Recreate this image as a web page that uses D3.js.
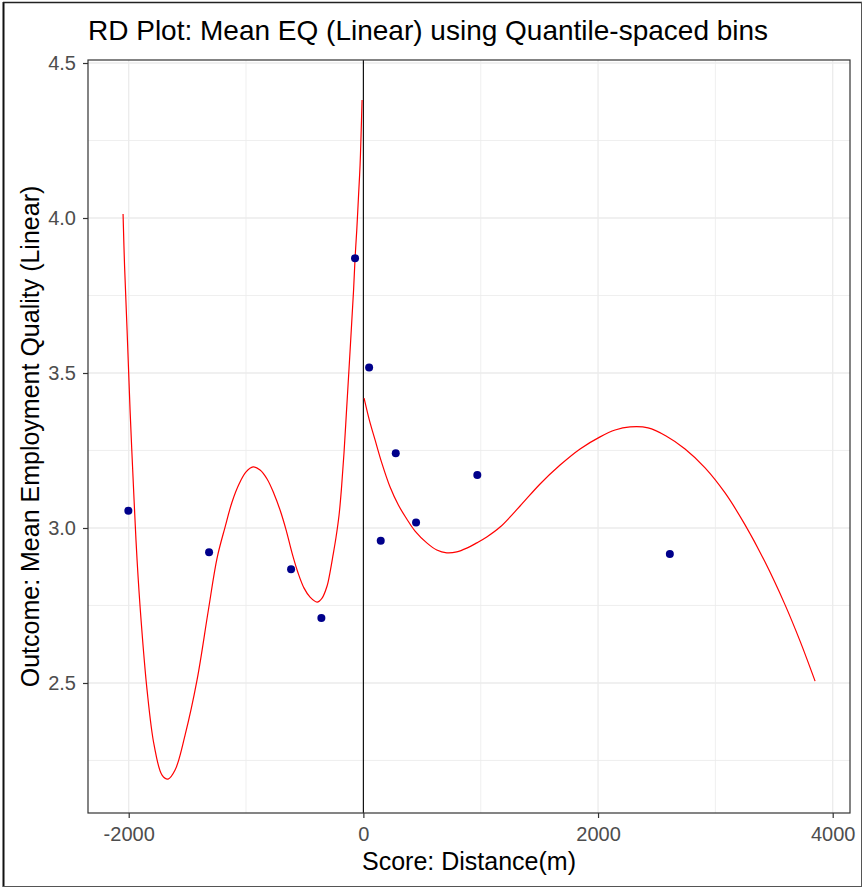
<!DOCTYPE html>
<html>
<head>
<meta charset="utf-8">
<script src="https://cdn.jsdelivr.net/npm/d3@7"></script>
<style>
  html, body { margin: 0; padding: 0; background: #fff; }
  svg { display: block; font-family: "Liberation Sans", Arial, sans-serif; }
</style>
</head>
<body>
<svg id="chart" width="863" height="888"></svg>
<script>
// Binned sample means (quantile-spaced bins)
const binX = [-2003, -1315, -616, -358, -71, 49, 148, 276, 449, 971, 2612];
const binY = [3.056, 2.922, 2.867, 2.710, 3.870, 3.518, 2.959, 3.241, 3.018, 3.171, 2.916];

// Global polynomial fit, left of the cutoff
const leftFitX = [-2048.1, -2035.3, -2013.9, -1988.4, -1954.3, -1928.7, -1894.6, -1843.5, -1783.8, -1715.7,
  -1664.5, -1604.8, -1519.6, -1417.4, -1323.6, -1246.9, -1178.7, -1119.1, -1059.4, -999.7,
  -940.1, -880.4, -820.8, -761.1, -710.0, -658.8, -607.7, -556.5, -505.4, -454.3,
  -394.6, -352.0, -309.4, -283.8, -258.2, -232.7, -207.1, -185.8, -164.5, -143.2,
  -121.9, -100.6, -83.5, -70.7, -56.3, -40.9, -28.1, -19.6, -11.1];
const leftFitY = [4.013, 3.845, 3.639, 3.381, 3.090, 2.897, 2.703, 2.477, 2.300, 2.203,
  2.190, 2.219, 2.332, 2.510, 2.729, 2.903, 3.003, 3.084, 3.142, 3.181,
  3.197, 3.187, 3.158, 3.110, 3.058, 2.994, 2.919, 2.855, 2.806, 2.777,
  2.761, 2.774, 2.813, 2.858, 2.913, 2.971, 3.042, 3.132, 3.245, 3.381,
  3.516, 3.655, 3.768, 3.871, 3.961, 4.074, 4.171, 4.268, 4.381];

// Global polynomial fit, right of the cutoff
const rightFitX = [6.0, 51.1, 99.7, 156.8, 227.6, 298.3, 369.9, 440.6, 540.4, 625.6,
  710.8, 796.0, 881.3, 966.5, 1051.7, 1165.1, 1335.5, 1506.0, 1676.4, 1846.9,
  2017.4, 2145.2, 2273.1, 2426.5, 2579.9, 2741.8, 2912.3, 3082.7, 3253.2, 3423.6,
  3594.1, 3721.9, 3849.8];
const rightFitY = [3.419, 3.348, 3.284, 3.210, 3.132, 3.074, 3.029, 2.990, 2.952, 2.929,
  2.920, 2.923, 2.935, 2.952, 2.971, 3.003, 3.071, 3.142, 3.203, 3.255,
  3.294, 3.316, 3.326, 3.323, 3.297, 3.255, 3.194, 3.113, 3.010, 2.890,
  2.752, 2.635, 2.506];

const xTicks = [-2000, 0, 2000, 4000];
const xMinor = [-1000, 1000, 3000];
const yTicks = [2.5, 3.0, 3.5, 4.0, 4.5];
const yMinor = [2.25, 2.75, 3.25, 3.75, 4.25];

const titleText = "RD Plot: Mean EQ (Linear) using Quantile-spaced bins";
const xTitle = "Score: Distance(m)";
const yTitle = "Outcome: Mean Employment Quality (Linear)";

const W = 863, H = 888;
const panel = { left: 88, right: 850, top: 60, bottom: 813 };

const svg = d3.select("#chart");

svg.append("rect").attr("width", W).attr("height", H).attr("fill", "#fff");

const x = d3.scaleLinear().domain([-2346.9, 4147.4]).range([panel.left, panel.right]);
const y = d3.scaleLinear().domain([2.0806, 4.5097]).range([panel.bottom, panel.top]);

const g = svg.append("g");

// Grid
g.selectAll("line.vminor").data(xMinor).join("line")
  .attr("x1", d => x(d)).attr("x2", d => x(d))
  .attr("y1", panel.top).attr("y2", panel.bottom)
  .attr("stroke", "#ebebeb").attr("stroke-width", 0.8);
g.selectAll("line.hminor").data(yMinor).join("line")
  .attr("x1", panel.left).attr("x2", panel.right)
  .attr("y1", d => y(d)).attr("y2", d => y(d))
  .attr("stroke", "#ebebeb").attr("stroke-width", 0.8);
g.selectAll("line.vmajor").data(xTicks).join("line")
  .attr("x1", d => x(d)).attr("x2", d => x(d))
  .attr("y1", panel.top).attr("y2", panel.bottom)
  .attr("stroke", "#ebebeb").attr("stroke-width", 1.3);
g.selectAll("line.hmajor").data(yTicks).join("line")
  .attr("x1", panel.left).attr("x2", panel.right)
  .attr("y1", d => y(d)).attr("y2", d => y(d))
  .attr("stroke", "#ebebeb").attr("stroke-width", 1.3);

// Cutoff line
g.append("line")
  .attr("x1", x(0)).attr("x2", x(0))
  .attr("y1", panel.top).attr("y2", panel.bottom)
  .attr("stroke", "#000").attr("stroke-width", 1.1);

// Fitted curves
const line = d3.line().x(d => x(d[0])).y(d => y(d[1])).curve(d3.curveCatmullRom.alpha(0.5));
const leftPts = leftFitX.map((v, i) => [v, leftFitY[i]]);
const rightPts = rightFitX.map((v, i) => [v, rightFitY[i]]);
[leftPts, rightPts].forEach(pts => {
  g.append("path").attr("d", line(pts))
    .attr("fill", "none").attr("stroke", "#ff0000").attr("stroke-width", 1.2);
});

// Bin means
g.selectAll("circle.bin").data(binX.map((v, i) => [v, binY[i]])).join("circle")
  .attr("cx", d => x(d[0])).attr("cy", d => y(d[1])).attr("r", 4)
  .attr("fill", "#00008b");

// Panel border
g.append("rect")
  .attr("x", panel.left).attr("y", panel.top)
  .attr("width", panel.right - panel.left).attr("height", panel.bottom - panel.top)
  .attr("fill", "none").attr("stroke", "#333333").attr("stroke-width", 1.2);

// Axes
const xAxis = d3.axisBottom(x).tickValues(xTicks).tickSize(5).tickPadding(9).tickFormat(d => String(d));
const xa = svg.append("g").attr("transform", `translate(0,${panel.bottom})`).call(xAxis);
xa.select(".domain").remove();
xa.selectAll(".tick line").attr("stroke", "#333333").attr("stroke-width", 1.2);
xa.selectAll(".tick text").attr("fill", "#4d4d4d").attr("font-size", 20)
  .attr("font-family", "Liberation Sans, Arial, sans-serif").attr("dy", "0.71em");

const yAxis = d3.axisLeft(y).tickValues(yTicks).tickSize(5).tickPadding(7).tickFormat(d3.format(".1f"));
const ya = svg.append("g").attr("transform", `translate(${panel.left},0)`).call(yAxis);
ya.select(".domain").remove();
ya.selectAll(".tick line").attr("stroke", "#333333").attr("stroke-width", 1.2);
ya.selectAll(".tick text").attr("fill", "#4d4d4d").attr("font-size", 20)
  .attr("font-family", "Liberation Sans, Arial, sans-serif");

// Titles
svg.append("text").attr("x", panel.left).attr("y", 40)
  .attr("font-size", 28).attr("fill", "#000").text(titleText);
svg.append("text").attr("x", (panel.left + panel.right) / 2).attr("y", 870)
  .attr("text-anchor", "middle").attr("font-size", 25).attr("fill", "#000").text(xTitle);
svg.append("text")
  .attr("transform", `translate(39,${(panel.top + panel.bottom) / 2}) rotate(-90)`)
  .attr("text-anchor", "middle").attr("font-size", 25).attr("fill", "#000").text(yTitle);

// Outer frame
svg.append("line").attr("x1", 3.5).attr("x2", 3.5).attr("y1", 2).attr("y2", 887)
  .attr("stroke", "#111").attr("stroke-width", 2);
svg.append("line").attr("x1", 3).attr("x2", 862).attr("y1", 2.5).attr("y2", 2.5)
  .attr("stroke", "#222").attr("stroke-width", 1.5);
svg.append("line").attr("x1", 3).attr("x2", 862).attr("y1", 886.5).attr("y2", 886.5)
  .attr("stroke", "#555").attr("stroke-width", 1);
svg.append("line").attr("x1", 861.5).attr("x2", 861.5).attr("y1", 2).attr("y2", 887)
  .attr("stroke", "#555").attr("stroke-width", 1);
</script>
</body>
</html>
